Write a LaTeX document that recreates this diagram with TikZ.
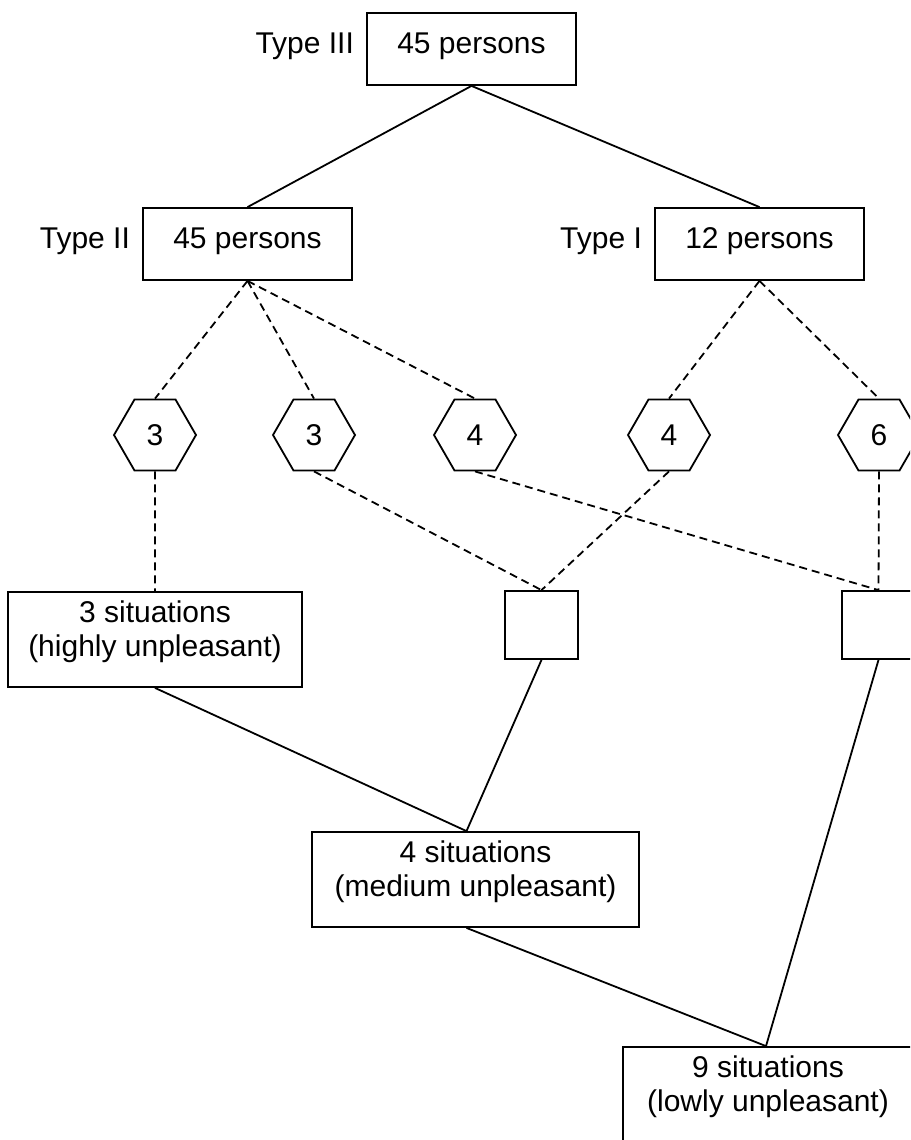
\documentclass[tikz,border=0pt]{standalone}
\usepackage{fontspec}
\setmainfont{Liberation Sans}
\usetikzlibrary{shapes.geometric}
\begin{document}
\begin{tikzpicture}[x=1pt,y=-1pt,
  every node/.style={font=\fontsize{30}{34}\selectfont},
  onebox/.style={draw, rectangle, line width=1.8pt, minimum width=209pt, minimum height=72pt, inner xsep=0pt, inner ysep=0pt, text height=40pt, text depth=32pt},
  twobox/.style={draw, rectangle, line width=1.8pt, align=center, inner xsep=0pt, inner ysep=0pt, text height=64pt, text depth=31pt, minimum height=95pt},
  hexbox/.style={draw, line width=1.8pt, regular polygon, regular polygon sides=6, minimum size=82pt, inner sep=0pt},
  sqbox/.style={draw, rectangle, line width=1.8pt, minimum width=73pt, minimum height=68pt, inner sep=0pt},
  typelab/.style={inner sep=0pt, anchor=base east},
  link/.style={line width=1.8pt},
  dlink/.style={line width=1.8pt, dash pattern=on 8pt off 5pt},
]
\useasboundingbox (0,0) rectangle (910,1140);
\clip (0,0) rectangle (910,1140);

% person boxes
\node[onebox] (top) at (471.5,49) {45 persons};
\node[onebox] (t2) at (247.5,244) {45 persons};
\node[onebox] (t1) at (759.5,244) {12 persons};
\node[typelab] (l3) at ([xshift=-12pt]top.base west) {Type III};
\node[typelab] (l2) at ([xshift=-12pt]t2.base west) {Type II};
\node[typelab] (l1) at ([xshift=-12pt]t1.base west) {Type I};

% hexagons
\node[hexbox] (h1) at (155,435) {3};
\node[hexbox] (h2) at (314,435) {3};
\node[hexbox] (h3) at (475,435) {4};
\node[hexbox] (h4) at (669,435) {4};
\node[hexbox] (h5) at (879,435) {6};

% small boxes
\node[sqbox] (sq1) at (541.5,625) {};
\node[sqbox] (sq2) at (878.5,625) {};

% situation boxes
\node[twobox, minimum width=294pt] (s3) at (155,639.5) {3 situations\\(highly unpleasant)};
\node[twobox, minimum width=327pt] (med) at (475.5,879.5) {4 situations\\(medium unpleasant)};
\node[twobox, minimum width=290pt] (low) at (768,1094.5) {9 situations\\(lowly unpleasant)};

\coordinate (medtop) at ([xshift=-9pt]med.north);
\coordinate (medbot) at ([xshift=-9pt]med.south);
\coordinate (lowtop) at ([xshift=-2pt]low.north);

% solid links
\draw[link] (top.south) -- (t2.north);
\draw[link] (top.south) -- (t1.north);
\draw[link] (s3.south) -- (medtop);
\draw[link] (sq1.south) -- (medtop);
\draw[link] (medbot) -- (lowtop);
\draw[link] (sq2.south) -- (lowtop);

% dashed links
\draw[dlink] (t2.south) -- (h1.north);
\draw[dlink] (t2.south) -- (h2.north);
\draw[dlink] (t2.south) -- (h3.north);
\draw[dlink] (t1.south) -- (h4.north);
\draw[dlink] (t1.south) -- (h5.north);
\draw[dlink] (h1.south) -- (s3.north);
\draw[dlink] (h2.south) -- (sq1.north);
\draw[dlink] (h4.south) -- (sq1.north);
\draw[dlink] (h3.south) -- (sq2.north);
\draw[dlink] (h5.south) -- (sq2.north);
\end{tikzpicture}
\end{document}
